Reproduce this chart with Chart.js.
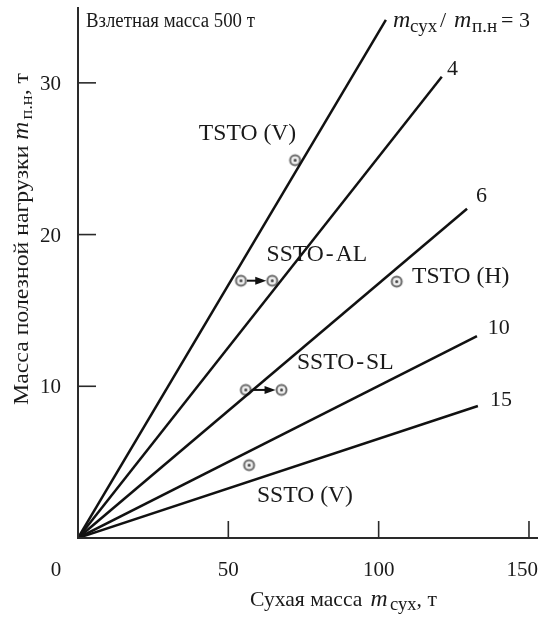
<!DOCTYPE html>
<html>
<head>
<meta charset="utf-8">
<script src="https://cdn.jsdelivr.net/npm/chart.js@4.4.1/dist/chart.umd.min.js"></script>
<style>
  html, body { margin: 0; padding: 0; background: #fff; overflow: hidden; }
  canvas { display: block; }
</style>
</head>
<body>
<canvas id="chart" width="540" height="621"></canvas>
<script>
// Линии постоянного отношения m_сух / m_п.н (конечные точки)
const ratioLabels = ['3', '4', '6', '10', '15']
const lineEndX = [102.4, 121.0, 129.4, 132.7, 133.0]
const lineEndY = [34.15, 30.4, 21.7, 13.3, 8.7]

// Проекты (сухая масса, т / масса полезной нагрузки, т)
const vehicleNames = ['TSTO (V)', 'SSTO-AL', 'TSTO (H)', 'SSTO-SL', 'SSTO (V)']
const dryMass = [72.2, 54.2, 106.0, 55.8, 56.9]
const dryMassAfter = [null, 64.6, null, 67.7, null]
const payloadMass = [24.9, 16.96, 16.9, 9.76, 4.8]

// Деления осей
const xTicks = [50, 100, 150]
const yTicks = [10, 20, 30]

const SERIF = "'Liberation Serif', 'Times New Roman', serif"

// Маркер: кружок с точкой
function makeMarker() {
  const c = document.createElement('canvas')
  c.width = 15
  c.height = 15
  const g = c.getContext('2d')
  g.beginPath()
  g.arc(7.5, 7.5, 5, 0, Math.PI * 2)
  g.fillStyle = '#eeeeee'
  g.fill()
  g.lineWidth = 2
  g.strokeStyle = '#6a6a6a'
  g.stroke()
  g.beginPath()
  g.arc(7.5, 7.5, 1.5, 0, Math.PI * 2)
  g.fillStyle = '#444'
  g.fill()
  return c
}

// Надписи (левый край и середина по высоте, в единицах данных)
const labelAnchors = [
  ['TSTO (V)', 40.2, 26.6],
  ['SSTO\u200a-\u200aAL', 62.7, 18.65],
  ['TSTO (H)', 111.1, 17.2],
  ['SSTO\u200a-\u200aSL', 72.8, 11.5],
  ['SSTO (V)', 59.5, 2.77]
]
const ratioAnchors = [null, [122.7, 30.9], [132.4, 22.5], [136.3, 13.8], [137.0, 9.1]]

// Текст с индексами; sx — растяжение вдоль строки
function drawRich(ctx, parts, x, y, sx) {
  ctx.save()
  ctx.translate(x, y)
  ctx.scale(sx || 1, 1)
  let cx = 0
  parts.forEach(p => {
    ctx.font = p.font
    if (p.x != null) cx = p.x
    ctx.fillText(p.t, cx, p.dy || 0)
    cx += ctx.measureText(p.t).width + (p.gap || 0)
  })
  ctx.restore()
}

function richWidth(ctx, parts, sx) {
  let w = 0
  parts.forEach(p => {
    ctx.font = p.font
    w += ctx.measureText(p.t).width + (p.gap || 0)
  })
  return w * (sx || 1)
}

const axesPlugin = {
  id: 'axesPlugin',
  afterDatasetsDraw(chart) {
    const ctx = chart.ctx
    const xs = chart.scales.x
    const ys = chart.scales.y
    const x0 = xs.getPixelForValue(0)
    const y0 = ys.getPixelForValue(0)
    const area = chart.chartArea

    ctx.save()
    // стрелки SSTO-AL и SSTO-SL
    ctx.fillStyle = '#111'
    ctx.strokeStyle = '#111'
    dryMass.forEach((m, i) => {
      if (dryMassAfter[i] == null) return
      const a = xs.getPixelForValue(m) + 6
      const b = xs.getPixelForValue(dryMassAfter[i]) - 6
      const py = ys.getPixelForValue(payloadMass[i])
      ctx.lineWidth = 2
      ctx.beginPath()
      ctx.moveTo(a, py)
      ctx.lineTo(b - 8, py)
      ctx.stroke()
      ctx.beginPath()
      ctx.moveTo(b, py)
      ctx.lineTo(b - 11, py - 4)
      ctx.lineTo(b - 11, py + 4)
      ctx.closePath()
      ctx.fill()
    })

    // оси
    ctx.strokeStyle = '#2a2a2a'
    ctx.lineWidth = 2
    ctx.beginPath()
    ctx.moveTo(x0, area.top)
    ctx.lineTo(x0, y0)
    ctx.lineTo(area.right, y0)
    ctx.stroke()
    ctx.lineWidth = 1.6
    yTicks.forEach(v => {
      const py = ys.getPixelForValue(v)
      ctx.beginPath()
      ctx.moveTo(x0, py)
      ctx.lineTo(x0 + 18, py)
      ctx.stroke()
    })
    xTicks.forEach(v => {
      const px = xs.getPixelForValue(v)
      ctx.beginPath()
      ctx.moveTo(px, y0)
      ctx.lineTo(px, y0 - 17)
      ctx.stroke()
    })

    // подписи делений
    ctx.fillStyle = '#1a1a1a'
    ctx.font = '21px ' + SERIF
    ctx.textBaseline = 'alphabetic'
    ctx.textAlign = 'right'
    yTicks.forEach(v => {
      ctx.fillText(String(v), x0 - 17, ys.getPixelForValue(v) + 7)
    })
    ctx.textAlign = 'center'
    xTicks.forEach(v => {
      const s = String(v)
      const w = ctx.measureText(s).width
      const px = Math.min(xs.getPixelForValue(v), chart.width - 2 - w / 2)
      ctx.fillText(s, px, y0 + 38)
    })
    ctx.fillText('0', x0 - 22, y0 + 38)

    // заголовки осей
    ctx.textAlign = 'left'
    const yTitle = [
      { t: 'Масса полезной нагрузки ', font: '22px ' + SERIF },
      { t: 'm', font: 'italic 23px ' + SERIF, gap: 2 },
      { t: 'п.н', font: '17px ' + SERIF, dy: 4 },
      { t: ', т', font: '22px ' + SERIF }
    ]
    const yStretch = 1.08
    const yw = richWidth(ctx, yTitle, yStretch)
    ctx.save()
    ctx.translate(28, 239)
    ctx.rotate(-Math.PI / 2)
    drawRich(ctx, yTitle, -yw / 2, 0, yStretch)
    ctx.restore()

    drawRich(ctx, [
      { t: 'Сухая масса', font: '21px ' + SERIF },
      { t: 'm', font: 'italic 23px ' + SERIF, x: 117 },
      { t: 'сух', font: '18px ' + SERIF, dy: 4, x: 136 },
      { t: ', т', font: '21px ' + SERIF }
    ], 250, 606, 1.03)

    // заголовок графика
    drawRich(ctx, [{ t: 'Взлетная масса 500 т', font: '20px ' + SERIF }], 86, 27, 0.94)

    // подпись отношения
    drawRich(ctx, [
      { t: 'm', font: 'italic 24px ' + SERIF },
      { t: 'сух', font: '19px ' + SERIF, dy: 5, x: 17 },
      { t: '/', font: '22px ' + SERIF, x: 47 },
      { t: 'm', font: 'italic 24px ' + SERIF, x: 61 },
      { t: 'п.н', font: '19px ' + SERIF, dy: 5, x: 79 },
      { t: '= 3', font: '22px ' + SERIF, x: 108 }
    ], 393, 27, 1)

    ratioAnchors.forEach((a, i) => {
      if (!a) return
      ctx.textBaseline = 'middle'
      drawRich(ctx, [{ t: ratioLabels[i], font: '22px ' + SERIF }],
        xs.getPixelForValue(a[0]), ys.getPixelForValue(a[1]), 1)
    })
    labelAnchors.forEach(a => {
      ctx.textBaseline = 'middle'
      drawRich(ctx, [{ t: a[0], font: '22.5px ' + SERIF }],
        xs.getPixelForValue(a[1]), ys.getPixelForValue(a[2]), 1.05)
    })
    ctx.restore()
  }
}

const marker = makeMarker()

const lineDatasets = ratioLabels.map((r, i) => ({
  type: 'line',
  label: 'm_сух / m_п.н = ' + r,
  data: [{ x: 0, y: 0 }, { x: lineEndX[i], y: lineEndY[i] }],
  borderColor: '#111',
  borderWidth: 2.5,
  pointRadius: 0,
  fill: false
}))

const pointData = []
dryMass.forEach((m, i) => {
  pointData.push({ x: m, y: payloadMass[i], name: vehicleNames[i] })
  if (dryMassAfter[i] != null) {
    pointData.push({ x: dryMassAfter[i], y: payloadMass[i], name: vehicleNames[i] })
  }
})

new Chart(document.getElementById('chart'), {
  type: 'scatter',
  data: {
    datasets: [
      ...lineDatasets,
      {
        type: 'scatter',
        label: 'Проекты',
        data: pointData,
        pointStyle: marker,
        pointRadius: 7
      }
    ]
  },
  options: {
    responsive: false,
    animation: false,
    devicePixelRatio: 1,
    layout: { autoPadding: false, padding: { left: 78, right: 2, top: 7, bottom: 83 } },
    plugins: {
      legend: { display: false },
      tooltip: { enabled: false }
    },
    scales: {
      x: { type: 'linear', min: 0, max: 153, display: false },
      y: { type: 'linear', min: 0, max: 35, display: false }
    }
  },
  plugins: [axesPlugin]
})
</script>
</body>
</html>
